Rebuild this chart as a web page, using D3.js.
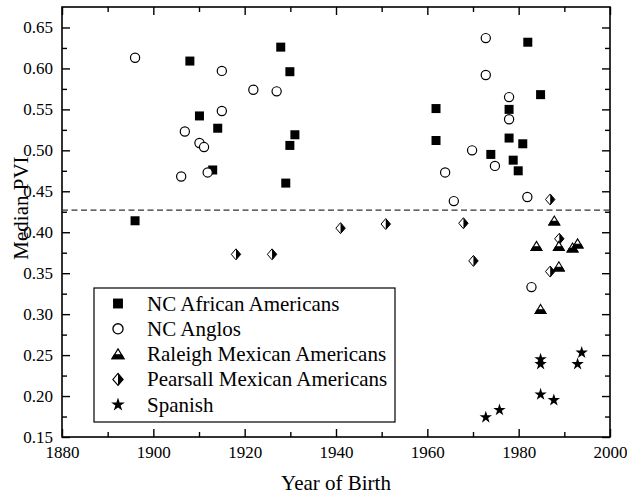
<!DOCTYPE html>
<html>
<head>
<meta charset="utf-8">
<script src="https://cdn.jsdelivr.net/npm/d3@7"></script>
<style>
  body { margin: 0; background: #fff; }
  svg text { font-family: "Liberation Serif", "Times New Roman", serif; }
</style>
</head>
<body>
<svg width="627" height="495"></svg>
<script>
// data
var africanYears = [1896.0, 1908.0, 1910.1, 1913.0, 1914.1, 1927.9, 1929.0, 1929.9, 1929.9, 1931.0, 1961.9, 1961.9, 1973.9, 1977.9, 1977.9, 1978.8, 1979.9, 1980.9, 1982.0, 1984.8];
var africanPvi = [0.414, 0.609, 0.542, 0.476, 0.527, 0.626, 0.460, 0.596, 0.506, 0.519, 0.551, 0.512, 0.495, 0.550, 0.515, 0.488, 0.475, 0.508, 0.632, 0.568];
var angloYears = [1896.0, 1915.0, 1921.9, 1927.0, 1915.0, 1906.9, 1910.1, 1911.1, 1906.1, 1911.9, 1972.8, 1972.8, 1977.9, 1977.9, 1969.8, 1974.8, 1963.9, 1965.8, 1981.9, 1982.8];
var angloPvi = [0.613, 0.597, 0.574, 0.572, 0.548, 0.523, 0.509, 0.504, 0.468, 0.473, 0.637, 0.592, 0.565, 0.538, 0.500, 0.481, 0.473, 0.438, 0.443, 0.333];
var raleighYears = [1987.8, 1983.9, 1988.8, 1991.8, 1992.9, 1988.8, 1984.8];
var raleighPvi = [0.414, 0.383, 0.383, 0.381, 0.386, 0.358, 0.306];
var pearsallYears = [1918.1, 1926.0, 1941.0, 1950.9, 1967.9, 1970.1, 1986.9, 1988.9, 1986.9];
var pearsallPvi = [0.373, 0.373, 0.405, 0.410, 0.411, 0.365, 0.440, 0.392, 0.352];
var spanishYears = [1972.8, 1975.8, 1984.8, 1984.8, 1984.8, 1987.7, 1992.9, 1993.8];
var spanishPvi = [0.174, 0.183, 0.245, 0.239, 0.202, 0.195, 0.239, 0.253];
var refLine = 0.427;

var xTicks = [1880, 1900, 1920, 1940, 1960, 1980, 2000];
var xMinor = [1890, 1910, 1930, 1950, 1970, 1990];
var yTicks = [0.15, 0.20, 0.25, 0.30, 0.35, 0.40, 0.45, 0.50, 0.55, 0.60, 0.65];
var yMinor = [0.175, 0.225, 0.275, 0.325, 0.375, 0.425, 0.475, 0.525, 0.575, 0.625];
var seriesNames = ["NC African Americans", "NC Anglos", "Raleigh Mexican Americans", "Pearsall Mexican Americans", "Spanish"];

var serif = "'Liberation Serif', 'Times New Roman', serif";
var svg = d3.select("svg"),
  margin = { top: 7, right: 17, bottom: 58, left: 62 },
  width = 627 - margin.left - margin.right,
  height = 495 - margin.top - margin.bottom,
  g = svg.append("g").attr("transform", "translate(" + margin.left + "," + margin.top + ")");

var x = d3.scaleLinear().domain([1880, 2000]).range([0, width]);
var y = d3.scaleLinear().domain([0.15, 0.675]).range([height, 0]);

function zip(a, b) {
  return a.map(function(v, i) { return { year: v, val: b[i] }; });
}

// marker shapes, drawn around 0,0
function square(sel) {
  sel.append("rect").attr("x", -4.5).attr("y", -4.5).attr("width", 9).attr("height", 9).attr("fill", "#000");
}
function circle(sel) {
  sel.append("circle").attr("r", 4.6).attr("fill", "#fff").attr("stroke", "#000").attr("stroke-width", 1.2);
}
function triangle(sel) {
  sel.append("path").attr("d", "M0,-4.8L5.4,4.2L-5.4,4.2Z").attr("fill", "#fff").attr("stroke", "#000").attr("stroke-width", 1.1);
  sel.append("path").attr("d", "M-3.3,0.6L3.3,0.6L5.4,4.2L-5.4,4.2Z").attr("fill", "#000").attr("stroke", "#000").attr("stroke-width", 1.1);
}
function diamond(sel) {
  sel.append("path").attr("d", "M0,-5.5L4.7,0L0,5.5L-4.7,0Z").attr("fill", "#fff").attr("stroke", "#000").attr("stroke-width", 1);
  sel.append("path").attr("d", "M0,-5.5L4.7,0L0,5.5Z").attr("fill", "#000");
}
function star(sel) {
  sel.append("path").attr("d", d3.symbol().type(d3.symbolStar).size(48)()).attr("fill", "#000");
}

// frame
g.append("rect").attr("width", width).attr("height", height)
  .attr("fill", "none").attr("stroke", "#000").attr("stroke-width", 1.6);

// axes, ticks inward
function styleAxis(a) {
  a.attr("font-family", serif);
  a.select(".domain").remove();
  a.selectAll("line").attr("stroke", "#000").attr("stroke-width", 1.4);
  a.selectAll("text").attr("fill", "#000").attr("font-size", 17);
}
g.append("g").attr("transform", "translate(0," + height + ")")
  .call(d3.axisBottom(x).tickValues(xTicks).tickFormat(d3.format("d")).tickSize(-8).tickPadding(9)).call(styleAxis);
g.append("g").attr("transform", "translate(0," + height + ")")
  .call(d3.axisBottom(x).tickValues(xMinor).tickFormat("").tickSize(-5)).call(styleAxis);
g.append("g")
  .call(d3.axisTop(x).tickValues(xTicks).tickFormat("").tickSize(-8)).call(styleAxis);
g.append("g")
  .call(d3.axisTop(x).tickValues(xMinor).tickFormat("").tickSize(-5)).call(styleAxis);
g.append("g")
  .call(d3.axisLeft(y).tickValues(yTicks).tickFormat(d3.format(".2f")).tickSize(-8).tickPadding(9)).call(styleAxis);
g.append("g")
  .call(d3.axisLeft(y).tickValues(yMinor).tickFormat("").tickSize(-5)).call(styleAxis);
g.append("g").attr("transform", "translate(" + width + ",0)")
  .call(d3.axisRight(y).tickValues(yTicks).tickFormat("").tickSize(-8)).call(styleAxis);
g.append("g").attr("transform", "translate(" + width + ",0)")
  .call(d3.axisRight(y).tickValues(yMinor).tickFormat("").tickSize(-5)).call(styleAxis);

// dashed reference line
g.append("line")
  .attr("x1", 0).attr("x2", width)
  .attr("y1", y(refLine)).attr("y2", y(refLine))
  .attr("stroke", "#333").attr("stroke-width", 1.2).attr("stroke-dasharray", "6,3.5");

// points
function plot(data, shape) {
  g.append("g").selectAll("g")
    .data(data)
    .enter().append("g")
    .attr("transform", function(d) { return "translate(" + x(d.year) + "," + y(d.val) + ")"; })
    .each(function() { shape(d3.select(this)); });
}
plot(zip(pearsallYears, pearsallPvi), diamond);
plot(zip(raleighYears, raleighPvi), triangle);
plot(zip(africanYears, africanPvi), square);
plot(zip(angloYears, angloPvi), circle);
plot(zip(spanishYears, spanishPvi), star);

// legend
var shapes = [square, circle, triangle, diamond, star];
var legend = svg.append("g").attr("transform", "translate(94,288)");
legend.append("rect").attr("width", 301).attr("height", 134)
  .attr("fill", "#fff").attr("stroke", "#000").attr("stroke-width", 1.2);
seriesNames.forEach(function(name, i) {
  var row = legend.append("g").attr("transform", "translate(0," + (15.5 + i * 25.3) + ")");
  var m = row.append("g").attr("transform", "translate(24,0) scale(1.1)");
  shapes[i](m);
  row.append("text").attr("x", 53).attr("y", 7).attr("font-size", 21)
    .attr("font-family", serif).attr("fill", "#000").text(name);
});

// axis titles
svg.append("text")
  .attr("x", margin.left + width / 2).attr("y", 490)
  .attr("text-anchor", "middle").attr("font-size", 21).attr("font-family", serif).attr("fill", "#000")
  .text("Year of Birth");
svg.append("text")
  .attr("transform", "translate(28,208) rotate(-90)")
  .attr("text-anchor", "middle").attr("font-size", 21).attr("font-family", serif).attr("fill", "#000")
  .text("Median PVI");
</script>
</body>
</html>
